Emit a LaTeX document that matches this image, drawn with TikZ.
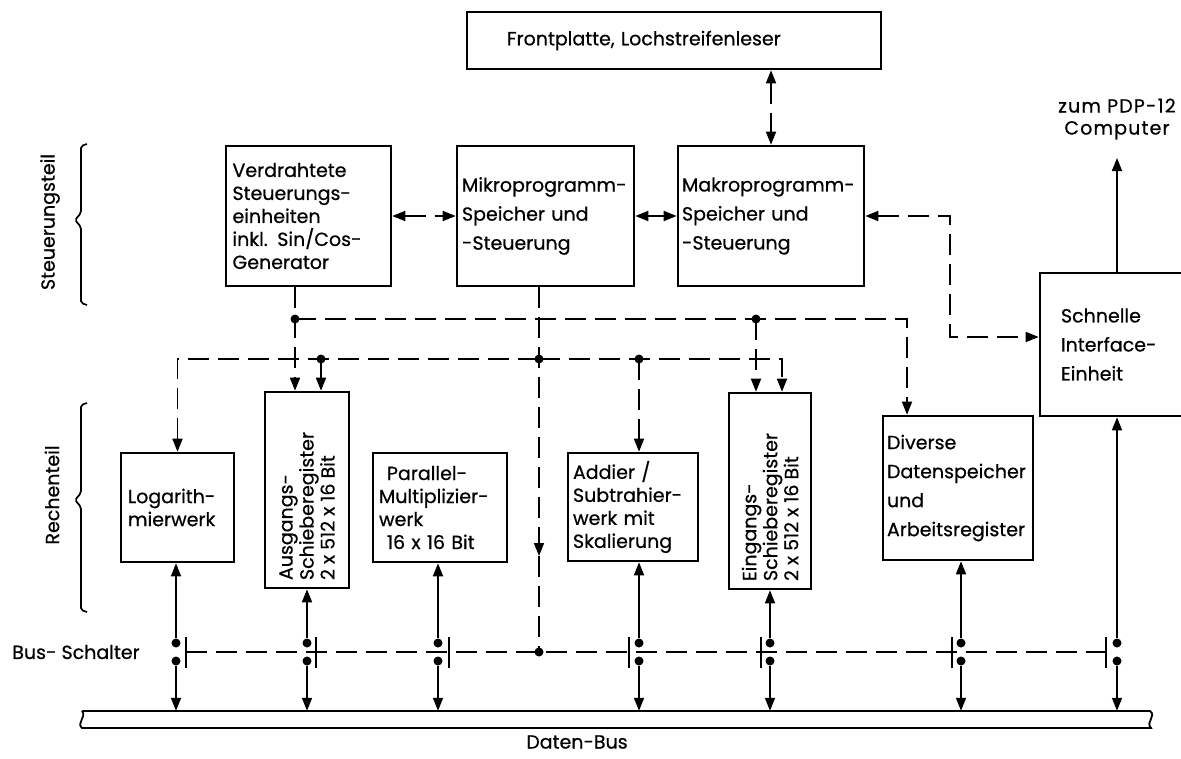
\documentclass[tikz,border=0pt]{standalone}
\usepackage{fontspec}
\setmainfont{Poppins}[FakeBold=0.6]
\usetikzlibrary{arrows.meta}
\newcommand\myfs{\fontsize{19}{23}\selectfont}
\newcommand\myfsb{\fontsize{19}{29}\selectfont}
\newcommand\myfsr{\fontsize{19}{21}\selectfont}
\begin{document}
\begin{tikzpicture}[x=1pt,y=-1pt,
  >={Triangle[length=13pt,width=10pt]},
  box/.style={draw, line width=2.6pt, inner sep=0pt, align=left, font=\myfs},
  wire/.style={line width=1.7pt},
  dsh/.style={wire, dash pattern=on 21pt off 9pt},
  dot/.style={circle, fill, inner sep=0pt, minimum size=9pt},
  lbl/.style={font=\myfs, inner sep=0pt, align=center},
]
\useasboundingbox (0,0) rectangle (1181,758);

% boxes
\node[box, minimum width=414, minimum height=57, text width=334] (front) at (674,40.5) {Frontplatte, Lochstreifenleser};
\node[box, minimum width=165, minimum height=140, text width=152] (verd) at (308.5,216) {Verdrahtete\\Steuerungs-\\einheiten\\inkl. Sin/Cos-\\Generator};
\node[box, font=\myfsb, minimum width=177, minimum height=140, text width=167] (mikro) at (545.5,216) {Mikroprogramm-\\Speicher und\\-Steuerung};
\node[box, font=\myfsb, minimum width=186, minimum height=140, text width=178] (makro) at (771,216) {Makroprogramm-\\Speicher und\\-Steuerung};
\node[box, font=\myfsb, minimum width=154, minimum height=143, text width=112] (schn) at (1117,344.5) {Schnelle\\Interface-\\Einheit};
\node[box, minimum width=113, minimum height=109, text width=99] (log) at (177.5,507.5) {Logarith-\\mierwerk};
\node[box, minimum width=84, minimum height=196] (ausg) at (307,490) {\rotatebox{90}{\parbox{180pt}{\myfsr Ausgangs-\\Schieberegister\\2 x 512 x 16 Bit}}};
\node[box, minimum width=134, minimum height=109, text width=122] (par) at (440,507.5) {\hspace*{8pt}Parallel-\\Multiplizier-\\werk\\\hspace*{8pt}16 x 16 Bit};
\node[box, minimum width=130, minimum height=108, text width=120] (add) at (633,507) {Addier /\\Subtrahier-\\werk mit\\Skalierung};
\node[box, minimum width=82, minimum height=196] (eing) at (770,491) {\rotatebox{90}{\parbox{180pt}{\myfsr Eingangs-\\Schieberegister\\2 x 512 x 16 Bit}}};
\node[box, font=\myfsb, minimum width=150, minimum height=144, text width=142] (div) at (958,488) {Diverse\\Datenspeicher\\und\\Arbeitsregister};

% bus
\node[minimum width=1068, minimum height=17, inner sep=0pt] (bus) at (616,719.5) {};
\draw[line width=1.8pt] (82,711) -- (1150,711) .. controls (1157,716) and (1145,722) .. (1151,728) -- (82,728) .. controls (76,723) and (87,717) .. (82,711);

% labels
\node[lbl, font=\fontsize{19}{22}\selectfont\addfontfeature{LetterSpace=6}] (pdp) at (1117,119) {zum PDP-12\\Computer};
\node[lbl] (bs) at (76,652) {Bus- Schalter};
\node[lbl] (db) at (577,742) {Daten-Bus};
\node[lbl, rotate=90] (st) at (50,222) {Steuerungsteil};
\node[lbl, rotate=90] (rt) at (52,495) {Rechenteil};

% braces
\draw[wire, rounded corners=2pt] (87,144) -- (81,146) -- (81,213) -- (75,220) -- (81,227) -- (81,303) -- (87,305);
\draw[wire, rounded corners=2pt] (87,403) -- (81,405) -- (81,493) -- (75,500) -- (81,507) -- (81,610) -- (87,612);

% control connections (top)
\draw[dsh,<->] (front.south -| makro.north) -- (makro.north);
\draw[dsh,<->] (verd.east) -- (mikro.west);
\draw[dsh,<->] (mikro.east) -- (makro.west);
\coordinate (c1) at (950,337);
\draw[dsh,<->] (makro.east) -| (c1) -- (c1 -| schn.west);
\coordinate (pdptip) at (1117,158);
\draw[wire,->] (schn.north -| pdptip) -- (pdptip);

% junctions
\node[dot] (jA1) at (295,319) {};
\node[dot] (jA2) at (756,319) {};
\node[dot] (jB0) at (539,359) {};
\node[dot] (jB1) at (321,359) {};
\node[dot] (jB2) at (639,359) {};
\node[dot] (jS) at (539,652) {};
\coordinate (cA) at (907,319);
\coordinate (cB) at (782,359);
\coordinate (mA) at (539,556);

\draw[dsh,->] (verd.south -| jA1) -- (jA1 |- ausg.north);
\draw[dsh,->] (jA1.center) -- (cA) -- (cA |- div.north);
\draw[dsh,->] (jA2.center) -- (jA2 |- eing.north);
\draw[dsh,->] (mikro.south -| jB0) -- (mA);
\draw[dsh] (mA) -- (jS.center);
\draw[dsh,->] (jB0.center) -- (cB) -- (cB |- eing.north);
\draw[dsh,->] (jB0.center) -| (log.north);
\draw[wire,->] (jB1.center) -- (jB1 |- ausg.north);
\draw[dsh,->] (jB2.center) -- (jB2 |- add.north);

% bus switches
\foreach \b/\x/\d in {log/176/10, ausg/307/9, par/438/11, add/639/-10, eing/770/-9, div/961/-9, schn/1117/-11} {
  \node[dot] (u\b) at (\x,643) {};
  \node[dot] (l\b) at (\x,661) {};
  \coordinate (k\b) at ({\x+\d},652);
  \draw[wire,<-] (\b.south -| u\b) -- (u\b);
  \draw[wire,->] (l\b) -- (l\b |- bus.north);
  \draw[wire] ({\x+\d},637) -- ({\x+\d},668);
}
\draw[dsh] (klog) -- (kschn);
\end{tikzpicture}
\end{document}
